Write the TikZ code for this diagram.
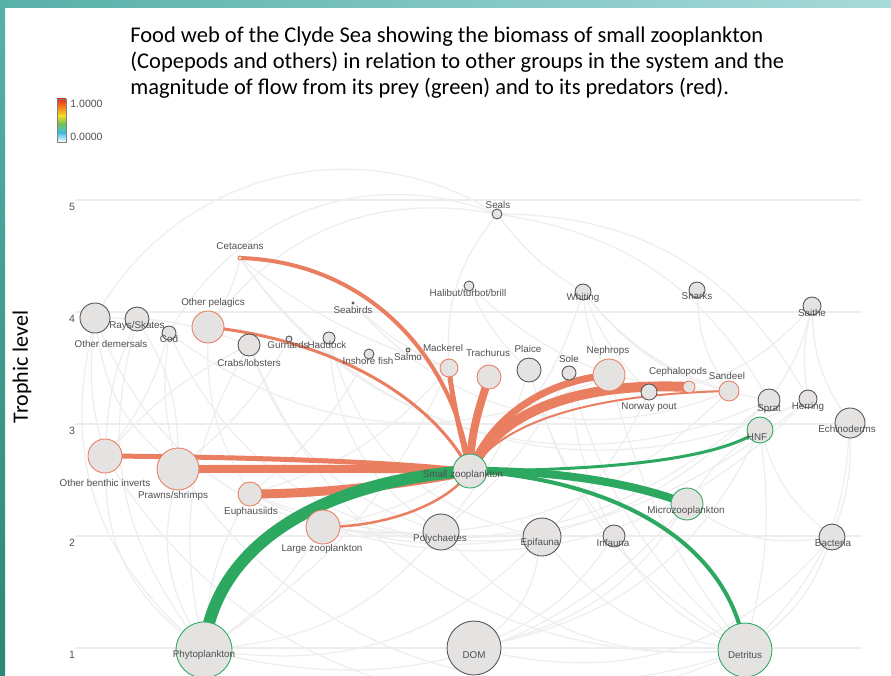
\documentclass[tikz,border=0pt]{standalone}
\usepackage{fontspec}
\setmainfont{Carlito}
\newfontfamily\lblfont{Liberation Sans}
\usetikzlibrary{positioning, calc}

\definecolor{predred}{RGB}{233,126,96}
\definecolor{preygreen}{RGB}{44,168,96}
\definecolor{nodefill}{RGB}{229,226,226}
\definecolor{edgegray}{RGB}{88,84,84}
\definecolor{labelgray}{RGB}{80,80,80}
\definecolor{webgray}{RGB}{238,238,238}
\definecolor{tealdark}{RGB}{46,134,118}
\definecolor{teallight}{RGB}{88,176,168}
\definecolor{tealpale}{RGB}{168,218,218}

\pgfdeclarelayer{bg}
\pgfdeclarelayer{web}
\pgfsetlayers{bg,web,main}

\tikzset{
  grp/.style={circle, draw=edgegray, fill=nodefill, line width=0.5pt, inner sep=0pt, minimum size=#1*0.04cm},
  lbl/.style={font=\lblfont\fontsize{5.6}{6}\selectfont, text=labelgray, inner sep=0pt},
  tick/.style={font=\lblfont\fontsize{6}{7}\selectfont, text=labelgray, inner sep=0pt},
  web/.style={draw=webgray, line width=0.7pt},
  grid/.style={draw=black!7, line width=0.6pt},
  flow/.style={line width=#1*0.567pt},
  pred/.style={draw=predred},
  prey/.style={draw=preygreen}
}

\begin{document}
\begin{tikzpicture}[x=0.02cm, y=-0.02cm]
\useasboundingbox (0,0) rectangle (891,675);

%// frame
\begin{pgfonlayer}{bg}
\fill[white] (0,0) rectangle (891,675);
\shade[left color=teallight, right color=tealpale] (0,0) rectangle (891,8);
\shade[top color=teallight, bottom color=tealdark] (0,0) rectangle (5,675);
\foreach \lev in {1,2,3,4,5}
  \draw[grid] (75,{648-112*(\lev-1)}) -- (862,{648-112*(\lev-1)});
\end{pgfonlayer}

%// title and legend
\node[anchor=north west, align=left, inner sep=0pt, font=\fontsize{12.8}{14.6}\selectfont] (title) at (130,27)
  {Food web of the Clyde Sea showing the biomass of small zooplankton\\
   (Copepods and others) in relation to other groups in the system and the\\
   magnitude of flow from its prey (green) and to its predators (red).};

\shade[top color={rgb,255:red,228;green,48;blue,30}, bottom color={rgb,255:red,244;green,140;blue,32}] (57,99) rectangle (66,108);
\shade[top color={rgb,255:red,244;green,140;blue,32}, bottom color={rgb,255:red,238;green,218;blue,40}] (57,108) rectangle (66,116);
\shade[top color={rgb,255:red,238;green,218;blue,40}, bottom color={rgb,255:red,110;green,196;blue,90}] (57,116) rectangle (66,124);
\shade[top color={rgb,255:red,110;green,196;blue,90}, bottom color={rgb,255:red,70;green,190;blue,230}] (57,124) rectangle (66,133);
\shade[top color={rgb,255:red,70;green,190;blue,230}, bottom color=white] (57,133) rectangle (66,142);
\draw[gray, line width=0.4pt] (57,99) rectangle (66,142);
\node[tick, anchor=west] (maxval) at (70,104) {1.0000};
\node[tick, anchor=west] (minval) at (70,137) {0.0000};

\node[rotate=90, font=\fontsize{12.5}{14}\selectfont] (ylab) at (22,367) {Trophic level};
\foreach \lev in {1,2,3,4,5}
  \node[tick] (lev\lev) at (72,{655-112*(\lev-1)}) {\lev};

%// groups
\foreach \n/\x/\y/\r/\c in {
  seals/497/214/5/edgegray, ceta/240/258/2/predred, halib/469/286/5/edgegray,
  whit/583/292/8/edgegray, shark/697/290/8/edgegray, saith/812/306/9/edgegray,
  odem/95/318/15/edgegray, rays/137/319/12/edgegray, cod/169/333/7/edgegray,
  opel/208/327/16/predred, seab/353/303/1/edgegray, crab/249/345/11/edgegray,
  gurn/289/339/3/edgegray, hadd/329/338/6/edgegray, insh/369/354/5/edgegray,
  salmo/408/350/2/edgegray, mack/449/368/9/predred, trach/489/377/12/predred,
  plaice/529/370/12/edgegray, sole/569/373/7/edgegray, neph/609/375/16/predred,
  npout/649/392/8/edgegray, ceph/689/387/6/predred, sand/729/391/10/predred,
  sprat/769/400/11/edgegray, herr/808/399/9/edgegray, echi/850/423/15/edgegray,
  hnf/760/430/13/preygreen, obi/105/456/17/predred, prawn/178/469/21/predred,
  sz/470/471/17/preygreen, euph/250/494/12/predred, micro/687/504/16/preygreen,
  lzoo/323/527/17/predred, poly/441/532/18/edgegray, epi/542/537/19/edgegray,
  infa/614/536/11/edgegray, bact/832/537/13/edgegray, phyto/204/650/28/preygreen,
  dom/474/648/27/edgegray, detr/745/650/27/preygreen}
  \node[grp=\r, draw=\c] (\n) at (\x,\y) {};

\foreach \n/\x/\y/\t in {
  seals/498/205/Seals, ceta/240/246/Cetaceans, halib/468/293/{Halibut/turbot/brill},
  whit/583/298/Whiting, shark/697/296/Sharks, saith/812/313/Saithe,
  opel/213/303/Other pelagics, seab/353/310/Seabirds, odem/111/344/Other demersals,
  rays/137/326/{Rays/Skates}, cod/169/339/Cod, crab/249/363/{Crabs/lobsters},
  gurn/288/345/Gurnards, hadd/327/345/Haddock, insh/368/361/Inshore fish,
  salmo/408/357/Salmo, mack/443/348/Mackerel, trach/488/353/Trachurus,
  plaice/528/349/Plaice, sole/569/359/Sole, neph/608/351/Nephrops,
  ceph/678/372/Cephalopods, sand/727/376/Sandeel, npout/649/407/Norway pout,
  sprat/769/409/Sprat, herr/808/407/Herring, echi/847/429/Echinoderms,
  hnf/757/437/HNF, obi/105/483/Other benthic inverts, prawn/173/496/{Prawns/shrimps},
  sz/463/475/Small zooplankton, euph/251/512/Euphausiids, micro/686/511/Microzooplankton,
  lzoo/322/549/Large zooplankton, poly/440/539/Polychaetes, epi/540/543/Epifauna,
  infa/613/543/Infauna, bact/833/543/Bacteria, phyto/204/655/Phytoplankton,
  dom/474/655/DOM, detr/745/655/Detritus}
  \node[lbl] (\n-t) at (\x,\y) {\t};

%// the rest of the web
\begin{pgfonlayer}{web}
\foreach \a/\b/\k in {
  phyto/obi/25, phyto/prawn/20, phyto/euph/12, phyto/lzoo/-10, phyto/poly/-20,
  phyto/epi/-25, phyto/micro/-30, phyto/crab/20, phyto/mack/-15, phyto/odem/30,
  phyto/rays/25, detr/poly/25, detr/epi/20, detr/infa/15, detr/obi/40,
  detr/prawn/35, detr/echi/-20, detr/bact/-15, detr/hnf/-10, detr/neph/10,
  detr/crab/35, detr/sole/15, detr/plaice/20, dom/bact/-30, dom/hnf/-25,
  dom/micro/-20, dom/infa/-15, dom/epi/-20, obi/odem/10, obi/rays/10,
  obi/cod/-10, prawn/cod/10, prawn/odem/20, prawn/rays/-15, crab/odem/-10,
  euph/opel/15, euph/mack/-15, euph/herr/-30, euph/sprat/-35, lzoo/sand/-25,
  lzoo/sprat/-25, lzoo/herr/-30, lzoo/whit/-30, micro/hnf/10, micro/bact/-20,
  bact/hnf/15, echi/saith/15, sprat/saith/-10, herr/saith/10, sprat/whit/20,
  sand/whit/15, sand/shark/15, npout/whit/10, npout/saith/-20, neph/cod/30,
  neph/whit/10, poly/plaice/-10, poly/sole/-10, poly/hadd/25, epi/hadd/30,
  infa/plaice/10, opel/ceta/-10, mack/seals/20, herr/seals/-30, sprat/seals/-25,
  opel/seals/30, whit/seals/10, cod/seals/40, odem/seals/45, mack/seab/10,
  sand/seab/35, sprat/ceta/40, herr/ceta/40, mack/ceta/10, plaice/halib/10,
  sand/halib/20, poly/odem/35, epi/cod/35, prawn/gurn/-10, euph/insh/-10,
  crab/poly/-25, obi/crab/10, echi/bact/10, infa/sole/10, epi/npout/-10}
  \draw[web] (\a) to[bend left=\k] (\b);

%// flows to predators
\draw[pred, flow=4] (sz.center) .. controls (455,360) and (370,262) .. (ceta.center);
\draw[pred, flow=3] (sz.center) .. controls (430,395) and (330,340) .. (opel.center);
\draw[pred, flow=5] (sz.center) .. controls (462,440) and (452,400) .. (mack.center);
\draw[pred, flow=8] (sz.center) .. controls (470,430) and (482,400) .. (trach.center);
\draw[pred, flow=7] (sz.center) .. controls (490,420) and (540,382) .. (neph.center);
\draw[pred, flow=10] (sz.center) .. controls (500,410) and (580,382) .. (ceph.center);
\draw[pred, flow=2] (sz.center) .. controls (505,418) and (600,394) .. (sand.center);
\draw[pred, flow=5] (sz.center) .. controls (400,462) and (250,457) .. (obi.center);
\draw[pred, flow=8] (sz.center) .. controls (400,468) and (300,469) .. (prawn.center);
\draw[pred, flow=9] (sz.center) .. controls (420,482) and (330,494) .. (euph.center);
\draw[pred, flow=2.5] (sz.center) .. controls (450,502) and (390,527) .. (lzoo.center);

%// flows from prey
\draw[prey, flow=12] (sz.center) .. controls (330,480) and (215,540) .. (phyto.center);
\draw[prey, flow=4] (sz.center) .. controls (620,480) and (730,545) .. (detr.center);
\draw[prey, flow=8] (sz.center) .. controls (560,470) and (640,485) .. (micro.center);
\draw[prey, flow=3] (sz.center) .. controls (620,470) and (720,458) .. (hnf.center);
\end{pgfonlayer}
\end{tikzpicture}
\end{document}
